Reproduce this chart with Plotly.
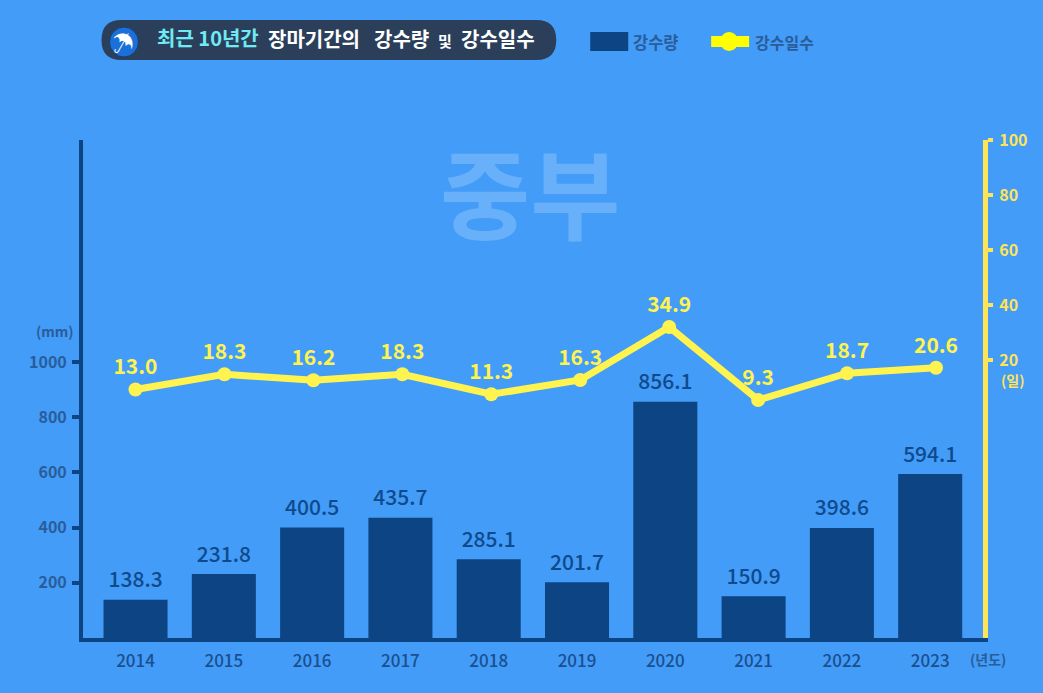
import plotly.graph_objects as go

years = ["2014","2015","2016","2017","2018","2019","2020","2021","2022","2023"]
rain_mm = [138.3,231.8,400.5,435.7,285.1,201.7,856.1,150.9,398.6,594.1]
rain_days = [13.0,18.3,16.2,18.3,11.3,16.3,34.9,9.3,18.7,20.6]
left_ticks = [200,400,600,800,1000]
right_ticks = [20,40,60,80,100]

W, H = 1043, 693
L, R, T, B = 82.5, 983, 140, 638
BG = "#429CF8"; NAVY = "#0D4483"; TICK = "#2A5C9A"; YEL = "#FFF34F"; AXY = "#FFE458"
KR = "Noto Sans CJK KR"

def px(x): return (x - L) / (R - L)
def py(y): return (B - y) / (B - T)

fig = go.Figure()
fig.add_trace(go.Bar(x=years, y=rain_mm, marker=dict(color=NAVY, line_width=0), width=0.725,
    hoverinfo="skip", xaxis="x", yaxis="y"))
fig.add_trace(go.Scatter(x=years, y=rain_mm, mode="markers+text", marker=dict(size=10, opacity=0),
    text=[f"{v:.1f}" for v in rain_mm], textposition="top center", cliponaxis=False,
    textfont=dict(family=KR, size=21, color="#0F4A8C", weight=500), hoverinfo="skip",
    xaxis="x", yaxis="y"))
fig.add_trace(go.Scatter(x=years[:1], y=right_ticks[-1:], mode="markers", marker_opacity=0,
    xaxis="x", yaxis="y2", hoverinfo="skip"))
fig.add_trace(go.Scatter(x=years, y=rain_days, mode="lines+markers+text",
    line=dict(color=YEL, width=7), marker=dict(color=YEL, size=14),
    text=[f"{v:.1f}" for v in rain_days], textposition="top center", cliponaxis=False,
    textfont=dict(family=KR, size=21, color=YEL, weight=700), hoverinfo="skip", xaxis="x2", yaxis="y3"))

shapes = [
    dict(type="path", xref="paper", yref="paper", layer="above",
         path=f"M {px(121)} {py(20)} L {px(536)} {py(20)} Q {px(556)} {py(20)} {px(556)} {py(40)} "
              f"Q {px(556)} {py(60)} {px(536)} {py(60)} L {px(121)} {py(60)} "
              f"Q {px(101)} {py(60)} {px(101)} {py(40)} Q {px(101)} {py(20)} {px(121)} {py(20)} Z",
         fillcolor="#2B3F5B", line_width=0),
    dict(type="circle", xref="paper", yref="paper", layer="above",
         x0=px(109), x1=px(138), y0=py(27), y1=py(57), fillcolor="#1A6FD8", line=dict(color="#15406F", width=1)),
    dict(type="rect", xref="paper", yref="paper", x0=px(590), x1=px(628), y0=py(32), y1=py(51),
         fillcolor=NAVY, line_width=0),
    dict(type="rect", xref="paper", yref="paper", x0=px(711), x1=px(749), y0=py(36), y1=py(47),
         fillcolor="#FFFF00", line_width=0),
    dict(type="circle", xref="paper", yref="paper", x0=px(720), x1=px(738), y0=py(32), y1=py(51),
         fillcolor="#FFFF00", line_width=0),
]

def note(text, x, y, size, color, anchor="left", weight="bold"):
    return dict(text=f"<b>{text}</b>" if weight == "bold" else text, xref="paper", yref="paper",
                x=px(x), y=py(y), xanchor=anchor, yanchor="middle", showarrow=False,
                font=dict(family=KR, size=size, color=color))

annotations = [
    note("☂", 123, 41, 22, "#FFFFFF", "center", "normal"),
    note("최근 10년간", 155, 38, 20, "#6EEBF5"),
    note("장마기간의", 266, 39, 20, "#FFFFFF"),
    note("강수량", 372, 39, 20, "#FFFFFF"),
    note("및", 436, 41, 15, "#FFFFFF"),
    note("강수일수", 459, 39, 20, "#FFFFFF"),
    note("강수량", 631, 42, 16.5, TICK),
    note("강수일수", 753, 42, 16, TICK),
    note("중부", 530, 189, 98, "#69B0FA", "center"),
    note("(mm)", 54, 331, 14, TICK, "center"),
    note("(일)", 1013, 380, 14, AXY, "center"),
    note("(년도)", 988, 659, 14, TICK, "center"),
]

fig.update_layout(
    width=W, height=H, showlegend=False, barmode="overlay",
    paper_bgcolor=BG, plot_bgcolor=BG,
    margin=dict(l=L, r=W-R, t=T, b=H-B, pad=0),
    xaxis=dict(type="category", range=[-0.595, 9.598], showgrid=False, ticks="", anchor="y",
               showline=True, linecolor=NAVY, linewidth=4, zeroline=False, ticklabelstandoff=5,
               tickfont=dict(family=KR, size=17, color="#1B4F8E", weight=500)),
    xaxis2=dict(type="category", range=[-0.59, 9.528], overlaying="x", visible=False, anchor="y3"),
    yaxis=dict(range=[0, 1804], tickvals=left_ticks, showgrid=False, zeroline=False, side="left",
               showline=True, linecolor=NAVY, linewidth=4, ticks="outside", ticklen=7, tickwidth=4,
               ticklabelstandoff=2, tickcolor=NAVY, tickfont=dict(family=KR, size=16, color=TICK, weight=700)),
    yaxis2=dict(range=[-81.1, 100], tickvals=right_ticks, showgrid=False, zeroline=False, side="right",
                overlaying="y", anchor="x", showline=True, linecolor=AXY, linewidth=5,
                ticks="outside", ticklen=5, tickwidth=4, tickcolor=AXY, ticklabelstandoff=3,
                tickfont=dict(family=KR, size=16, color=AXY, weight=700)),
    yaxis3=dict(range=[-74.2, 100.5], overlaying="y", visible=False, anchor="x2"),
    shapes=shapes, annotations=annotations,
)
fig.write_html("out.html", post_script="document.body.style.margin='0';", config=dict(displayModeBar=False))
